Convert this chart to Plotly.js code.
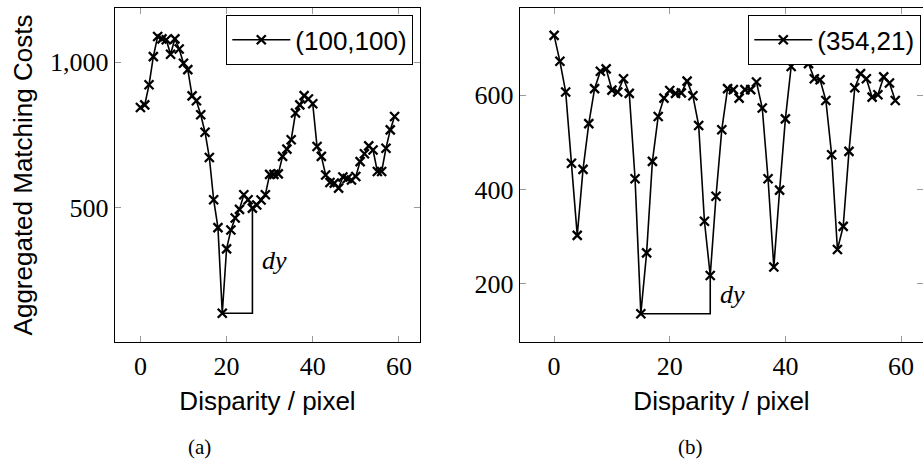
<!DOCTYPE html>
<html>
<head>
<meta charset="utf-8">
<script src="https://cdn.plot.ly/plotly-3.0.1.min.js"></script>
<style>
html,body{margin:0;padding:0;background:#fff;}
#chart{width:923px;height:476px;}
</style>
</head>
<body>
<div id="chart"></div>
<script>
// ---- data ----
var disparity = [];
for (var i = 0; i < 60; i++) disparity.push(i);

var costsA = [844, 853, 922, 1019, 1088, 1080, 1077, 1027, 1080, 1045,
              996, 974, 884, 867, 819, 759, 672, 527, 431, 137,
              358, 423, 464, 494, 544, 527, 498, 509, 526, 544,
              614, 614, 616, 676, 701, 733, 825, 853, 885, 873,
              857, 710, 676, 612, 586, 584, 567, 605, 600, 595,
              607, 658, 685, 712, 698, 624, 624, 704, 767, 813];

var costsB = [727, 672, 607, 456, 303, 443, 540, 614, 651, 656,
              611, 607, 635, 604, 423, 137, 266, 460, 555, 594,
              610, 604, 605, 630, 599, 536, 333, 218, 386, 527,
              614, 612, 594, 612, 612, 628, 573, 423, 236, 399,
              550, 661, 700, 690, 667, 635, 633, 589, 474, 273,
              322, 481, 616, 646, 635, 596, 601, 639, 626, 589];

var nameA = '(100,100)';
var nameB = '(354,21)';
var dyEndA = 26;   // disparity where the dy bracket rises (a)
var dyEndB = 27;   // disparity where the dy bracket rises (b)

var xTicks = [0, 20, 40, 60];
var yTicksA = [500, 1000];
var yTickTextA = ['500', '1,000'];
var yTicksB = [200, 400, 600];
var yTickTextB = ['200', '400', '600'];

var xTitle = 'Disparity / pixel';
var yTitle = 'Aggregated Matching Costs';

// ---- helpers ----
function argmin(a){ var m = 0; for (var i = 1; i < a.length; i++) if (a[i] < a[m]) m = i; return m; }
function bracket(vals, end){
  var m = argmin(vals);
  return { x: [disparity[m], disparity[end], disparity[end]],
           y: [vals[m], vals[m], vals[end]], mid: (vals[m] + vals[end]) / 2, end: disparity[end] };
}
var bA = bracket(costsA, dyEndA);
var bB = bracket(costsB, dyEndB);

var W = 923, H = 476;
var serif = 'Liberation Serif, DejaVu Serif, serif';
var sans = 'Liberation Sans, Arial, sans-serif';
var markerStyle = {symbol: 'x-thin', size: 9, color: 'black', line: {width: 2.3, color: 'black'}};

var traces = [
  {x: disparity, y: costsA, name: nameA, type: 'scatter', mode: 'lines+markers',
   line: {color: 'black', width: 1.6}, marker: markerStyle, xaxis: 'x', yaxis: 'y', legend: 'legend'},
  {x: bA.x, y: bA.y, type: 'scatter', mode: 'lines', line: {color: 'black', width: 1.6},
   showlegend: false, hoverinfo: 'skip', xaxis: 'x', yaxis: 'y'},
  {x: disparity, y: costsB, name: nameB, type: 'scatter', mode: 'lines+markers',
   line: {color: 'black', width: 1.6}, marker: markerStyle, xaxis: 'x2', yaxis: 'y2', legend: 'legend2'},
  {x: bB.x, y: bB.y, type: 'scatter', mode: 'lines', line: {color: 'black', width: 1.6},
   showlegend: false, hoverinfo: 'skip', xaxis: 'x2', yaxis: 'y2'}
];

function xAxis(dom, rng, anchor){
  return {domain: dom, range: rng, anchor: anchor, tickvals: xTicks,
    ticks: 'inside', ticklen: 6, tickwidth: 1, tickcolor: '#9a9a9a', mirror: 'allticks',
    showline: true, linecolor: 'black', linewidth: 1.4, showgrid: false, zeroline: false,
    tickfont: {family: serif, size: 26, color: 'black'},
    title: {text: xTitle, font: {family: sans, size: 26, color: 'black'}, standoff: 12}};
}
function yAxis(dom, rng, anchor, tv, tt, title){
  var a = {domain: dom, range: rng, anchor: anchor, tickvals: tv, ticktext: tt,
    ticks: 'inside', ticklen: 6, tickwidth: 1, tickcolor: '#9a9a9a', mirror: 'allticks',
    showline: true, linecolor: 'black', linewidth: 1.4, showgrid: false, zeroline: false,
    tickfont: {family: serif, size: 26, color: 'black'}};
  if (title) a.title = {text: title, font: {family: sans, size: 26, color: 'black'}, standoff: 10};
  return a;
}
var yDom = [1 - 342 / H, 1 - 8 / H];

function legendBox(xRight){
  return {x: xRight / W, xanchor: 'right', y: 1 - 15 / H, yanchor: 'top',
    bgcolor: 'white', bordercolor: 'black', borderwidth: 1.3, itemwidth: 58,
    font: {family: sans, size: 26, color: 'black'}};
}

var layout = {
  width: W, height: H, margin: {l: 0, r: 0, t: 0, b: 0},
  paper_bgcolor: 'white', plot_bgcolor: 'white',
  xaxis: xAxis([115 / W, 420 / W], [-5.9, 64.9], 'y'),
  yaxis: yAxis(yDom, [38, 1186], 'x', yTicksA, yTickTextA, yTitle),
  xaxis2: xAxis([520 / W, 1], [-5.9, 63.8], 'y2'),
  yaxis2: yAxis(yDom, [77, 785], 'x2', yTicksB, yTickTextB, null),
  legend: legendBox(413),
  legend2: legendBox(921),
  annotations: [
    {xref: 'x', yref: 'y', x: bA.end, y: bA.mid, xanchor: 'left', yanchor: 'middle', xshift: 8, showarrow: false,
     text: '<i>dy</i>', font: {family: serif, size: 26, color: 'black'}},
    {xref: 'x2', yref: 'y2', x: bB.end, y: bB.mid, xanchor: 'left', yanchor: 'middle', xshift: 8, showarrow: false,
     text: '<i>dy</i>', font: {family: serif, size: 26, color: 'black'}},
    {xref: 'paper', yref: 'paper', x: 199 / W, y: 1 - 447 / H, xanchor: 'center', yanchor: 'middle', showarrow: false,
     text: '(a)', font: {family: serif, size: 21, color: 'black'}},
    {xref: 'paper', yref: 'paper', x: 690 / W, y: 1 - 447 / H, xanchor: 'center', yanchor: 'middle', showarrow: false,
     text: '(b)', font: {family: serif, size: 21, color: 'black'}}
  ],
  showlegend: true
};

Plotly.newPlot('chart', traces, layout, {staticPlot: true, displayModeBar: false});
</script>
</body>
</html>
